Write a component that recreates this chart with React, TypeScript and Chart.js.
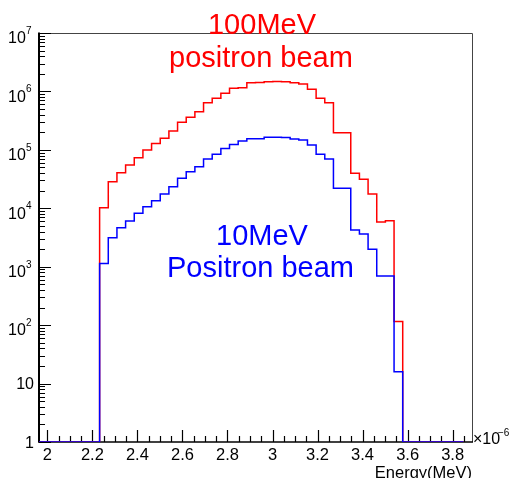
import React, { useEffect, useRef } from "react";
import { Chart, registerables } from "chart.js";

Chart.register(...registerables);

// Histogram binning (energy axis, units of 1e-6 MeV)
const histLow = 1.963;
const binWidth = 0.03846;
const totalBins = 49;
const firstFilledBin = 7;

// Bin contents of the filled bins (starting at firstFilledBin)
const counts100MeV = [
  10200, 28500, 40700, 55100, 73400, 99400, 129000, 158000, 210000, 296000,
  361000, 450000, 641000, 762000, 929000, 1130000, 1160000, 1410000, 1420000,
  1470000, 1480000, 1460000, 1410000, 1340000, 1090000, 762000, 641000, 197000,
  197000, 39700, 31300, 17500, 5830, 6130, 115,
];
const counts10MeV = [
  1140, 3140, 4650, 6060, 8200, 10600, 13500, 17600, 23400, 32600, 42300,
  51500, 69700, 83900, 106000, 124000, 142000, 155000, 155000, 164000, 165000,
  163000, 153000, 147000, 121000, 84000, 69700, 22000, 22000, 4250, 3630, 1990,
  693, 693, 16,
];

const xMin = 1.963;
const xMax = 3.886;
const yMin = 1;
const yMax = 1e7;

const xMajorTicks = [2.0, 2.2, 2.4, 2.6, 2.8, 3.0, 3.2, 3.4, 3.6, 3.8];
const xTickLabels = ["2", "2.2", "2.4", "2.6", "2.8", "3", "3.2", "3.4", "3.6", "3.8"];
const xMinorStep = 0.05;
const yDecades = [1, 10, 100, 1e3, 1e4, 1e5, 1e6, 1e7];
const yExponents = [0, 1, 2, 3, 4, 5, 6, 7];

const FONT = "'Liberation Sans', Arial, Helvetica, sans-serif";

function histPoints(counts: number[]) {
  const pts: { x: number; y: number }[] = [];
  for (let i = 0; i < totalBins; i++) {
    const k = i - firstFilledBin;
    const v = k >= 0 && k < counts.length ? counts[k] : 0;
    pts.push({ x: histLow + i * binWidth, y: v > yMin ? v : yMin });
  }
  pts.push({ x: histLow + totalBins * binWidth, y: yMin });
  return pts;
}

const rootFrame = {
  id: "rootFrame",
  beforeDatasetsDraw(chart: any) {
    const { ctx, chartArea: a } = chart;
    const x = chart.scales.x;
    const y = chart.scales.y;
    ctx.save();
    // top & right frame
    ctx.strokeStyle = "#444";
    ctx.lineWidth = 1;
    ctx.beginPath();
    ctx.moveTo(a.left, a.top + 0.5);
    ctx.lineTo(a.right + 0.5, a.top + 0.5);
    ctx.lineTo(a.right + 0.5, a.bottom);
    ctx.stroke();
    // bottom axis
    ctx.strokeStyle = "#000";
    ctx.lineWidth = 1.5;
    ctx.beginPath();
    ctx.moveTo(a.left, a.bottom);
    ctx.lineTo(a.right + 1, a.bottom);
    ctx.stroke();
    // left axis
    ctx.lineWidth = 2;
    ctx.beginPath();
    ctx.moveTo(a.left, a.top - 0.5);
    ctx.lineTo(a.left, a.bottom + 0.75);
    ctx.stroke();

    // x ticks (inward)
    ctx.lineWidth = 1.2;
    ctx.beginPath();
    for (const t of xMajorTicks) {
      const px = Math.round(x.getPixelForValue(t)) + 0.5;
      ctx.moveTo(px, a.bottom);
      ctx.lineTo(px, a.bottom - 12);
    }
    for (let t = 2.0; t <= xMax; t += xMinorStep) {
      const px = Math.round(x.getPixelForValue(t)) + 0.5;
      ctx.moveTo(px, a.bottom);
      ctx.lineTo(px, a.bottom - 6);
    }
    ctx.stroke();

    // y ticks (inward)
    ctx.beginPath();
    for (const d of yDecades) {
      const py = Math.round(y.getPixelForValue(d)) + 0.5;
      ctx.moveTo(a.left, py);
      ctx.lineTo(a.left + 12, py);
      if (d < yMax) {
        for (let m = 2; m <= 9; m++) {
          const pm = Math.round(y.getPixelForValue(d * m)) + 0.5;
          ctx.moveTo(a.left, pm);
          ctx.lineTo(a.left + 6, pm);
        }
      }
    }
    ctx.stroke();
    ctx.restore();
  },
  afterDraw(chart: any) {
    const { ctx, chartArea: a } = chart;
    const x = chart.scales.x;
    const y = chart.scales.y;
    ctx.save();
    ctx.fillStyle = "#000";
    // x labels
    ctx.font = `16.5px ${FONT}`;
    ctx.textAlign = "center";
    ctx.textBaseline = "alphabetic";
    xMajorTicks.forEach((t, i) => {
      ctx.fillText(xTickLabels[i], x.getPixelForValue(t), 460);
    });
    // y labels
    yDecades.forEach((d, i) => {
      const py = y.getPixelForValue(d);
      const e = yExponents[i];
      if (e === 0) {
        ctx.font = `16px ${FONT}`;
        ctx.textAlign = "right";
        ctx.fillText("1", 34, py + 5.5);
      } else if (e === 1) {
        ctx.font = `16px ${FONT}`;
        ctx.textAlign = "right";
        ctx.fillText("10", 34, py + 5.5);
      } else {
        ctx.font = `16px ${FONT}`;
        ctx.textAlign = "right";
        ctx.fillText("10", 25.8, py + 10.3);
        ctx.font = `10px ${FONT}`;
        ctx.textAlign = "left";
        ctx.fillText(String(e), 26, py + 0.8);
      }
    });
    // x multiplier
    ctx.font = `16px ${FONT}`;
    ctx.textAlign = "left";
    ctx.fillText("×10", a.right + 1, 444);
    ctx.font = `10px ${FONT}`;
    ctx.fillText("−6", a.right + 26, 436);
    // axis title
    ctx.font = `16.5px ${FONT}`;
    ctx.textAlign = "right";
    ctx.fillText("Energy(MeV)", a.right, 478);

    // annotations
    ctx.font = `29px ${FONT}`;
    ctx.textAlign = "center";
    ctx.fillStyle = "#ff0000";
    ctx.fillText("100MeV", 262, 33.5);
    ctx.fillText("positron beam", 261, 67);
    ctx.fillStyle = "#0000ff";
    ctx.fillText("10MeV", 262, 244.5);
    ctx.fillText("Positron beam", 260.5, 277);
    ctx.restore();
  },
};

export default function App() {
  const ref = useRef<HTMLCanvasElement | null>(null);
  useEffect(() => {
    document.body.style.margin = "0";
    const canvas = ref.current;
    if (!canvas) return;
    const chart = new Chart(canvas, {
      type: "line",
      data: {
        datasets: [
          {
            label: "10MeV Positron beam",
            data: histPoints(counts10MeV),
            borderColor: "#0000ff",
            borderWidth: 1.5,
            stepped: "before",
            pointRadius: 0,
            fill: false,
            order: 0,
          },
          {
            label: "100MeV positron beam",
            data: histPoints(counts100MeV),
            borderColor: "#ff0000",
            borderWidth: 1.5,
            stepped: "before",
            pointRadius: 0,
            fill: false,
            order: 1,
          },
        ],
      },
      options: {
        animation: false,
        responsive: false,
        devicePixelRatio: 1,
        parsing: false,
        layout: { padding: { left: 39, right: 43, top: 33, bottom: 36 } },
        plugins: {
          legend: { display: false },
          tooltip: { enabled: false },
          title: { display: false },
        },
        scales: {
          x: { type: "linear", min: xMin, max: xMax, display: false },
          y: { type: "logarithmic", min: yMin, max: yMax, display: false },
        },
      },
      plugins: [rootFrame],
    });
    return () => chart.destroy();
  }, []);
  return (
    <div style={{ position: "absolute", left: 0, top: 0, width: 515, height: 478, background: "#fff" }}>
      <canvas ref={ref} width={515} height={478} style={{ width: 515, height: 478, display: "block" }} />
    </div>
  );
}
